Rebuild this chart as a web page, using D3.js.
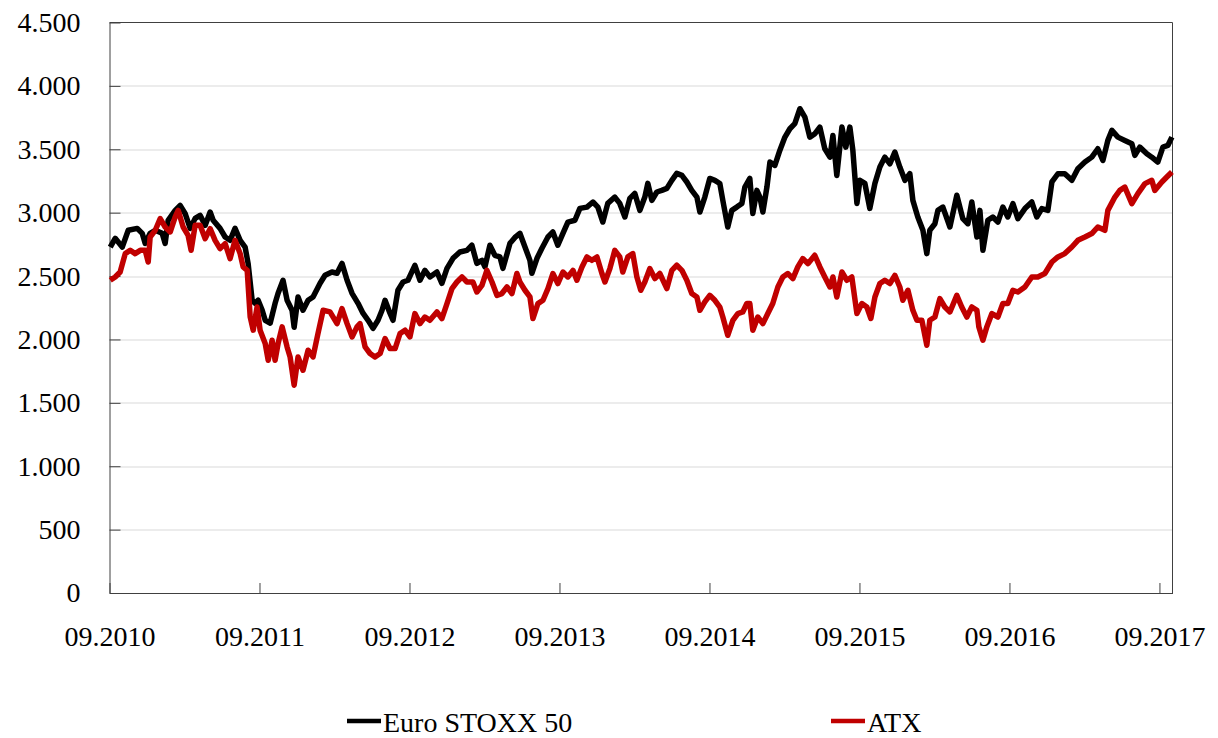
<!DOCTYPE html>
<html>
<head>
<meta charset="utf-8">
<script src="https://cdn.jsdelivr.net/npm/d3@7"></script>
<style>
  body { margin: 0; background: #fff; }
  svg { display: block; }
  text { font-family: "Liberation Serif", "DejaVu Serif", serif; fill: #000; }
</style>
</head>
<body>
<svg id="chart"></svg>
<script>
// Euro STOXX 50 (dates as decimal years)
var euroDates = [2010.671,2010.704,2010.751,2010.791,2010.851,2010.884,2010.904,2010.937,2010.971,2011.017,
  2011.037,2011.057,2011.104,2011.137,2011.170,2011.204,2011.237,2011.270,2011.304,2011.337,
  2011.357,2011.403,2011.437,2011.470,2011.503,2011.537,2011.570,2011.590,2011.617,2011.637,
  2011.657,2011.684,2011.704,2011.737,2011.770,2011.790,2011.823,2011.850,2011.883,2011.897,
  2011.923,2011.956,2011.990,2012.023,2012.070,2012.103,2012.149,2012.183,2012.216,2012.250,
  2012.283,2012.323,2012.356,2012.390,2012.423,2012.456,2012.483,2012.503,2012.536,2012.556,
  2012.589,2012.623,2012.656,2012.702,2012.736,2012.769,2012.802,2012.849,2012.882,2012.916,
  2012.956,2013.002,2013.049,2013.082,2013.115,2013.149,2013.169,2013.202,2013.235,2013.269,
  2013.289,2013.336,2013.369,2013.402,2013.436,2013.469,2013.482,2013.516,2013.549,2013.589,
  2013.622,2013.655,2013.689,2013.722,2013.769,2013.802,2013.849,2013.889,2013.922,2013.955,
  2013.988,2014.035,2014.068,2014.102,2014.135,2014.168,2014.202,2014.235,2014.255,2014.282,
  2014.315,2014.348,2014.382,2014.415,2014.448,2014.482,2014.515,2014.548,2014.582,2014.602,
  2014.635,2014.668,2014.702,2014.735,2014.755,2014.788,2014.815,2014.848,2014.882,2014.902,
  2014.935,2014.955,2014.982,2015.002,2015.022,2015.049,2015.069,2015.102,2015.135,2015.169,
  2015.202,2015.235,2015.269,2015.302,2015.335,2015.369,2015.402,2015.435,2015.469,2015.489,
  2015.515,2015.549,2015.575,2015.602,2015.622,2015.649,2015.669,2015.702,2015.735,2015.769,
  2015.802,2015.835,2015.869,2015.902,2015.935,2015.969,2016.002,2016.022,2016.055,2016.089,
  2016.115,2016.135,2016.169,2016.189,2016.222,2016.269,2016.315,2016.355,2016.389,2016.415,
  2016.449,2016.469,2016.489,2016.522,2016.555,2016.589,2016.622,2016.655,2016.689,2016.722,
  2016.769,2016.815,2016.848,2016.882,2016.922,2016.949,2016.989,2017.035,2017.082,2017.122,
  2017.169,2017.215,2017.255,2017.289,2017.322,2017.349,2017.389,2017.435,2017.482,2017.502,
  2017.535,2017.582,2017.615,2017.655,2017.689,2017.722,2017.749];
var euroValues = [2729,2798,2729,2861,2876,2837,2758,2837,2861,2837,
  2758,2940,3018,3057,2994,2876,2955,2979,2900,3005,
  2940,2876,2808,2782,2876,2782,2729,2600,2309,2285,
  2309,2230,2151,2128,2285,2364,2467,2309,2230,2096,
  2335,2230,2309,2335,2443,2506,2532,2522,2600,2467,
  2364,2285,2207,2151,2088,2151,2230,2309,2207,2151,
  2388,2453,2467,2585,2467,2545,2493,2532,2443,2561,
  2640,2690,2703,2743,2600,2624,2572,2743,2664,2651,
  2561,2758,2805,2837,2729,2624,2522,2640,2719,2808,
  2848,2743,2837,2926,2940,3034,3044,3084,3044,2926,
  3073,3123,3073,2966,3113,3152,3018,3123,3231,3097,
  3163,3176,3192,3255,3310,3294,3242,3176,3123,3005,
  3123,3270,3255,3230,3097,2887,3018,3044,3073,3202,
  3270,2994,3176,3123,3005,3202,3399,3373,3491,3596,
  3662,3702,3820,3754,3596,3623,3675,3504,3438,3609,
  3294,3675,3517,3675,3491,3073,3255,3231,3034,3231,
  3360,3438,3386,3478,3360,3255,3307,3097,2966,2861,
  2677,2861,2913,3018,3044,2887,3137,2953,2913,3084,
  2808,3018,2703,2940,2966,2926,3044,2966,3071,2953,
  3032,3084,2966,3032,3018,3242,3307,3307,3255,3347,
  3399,3438,3504,3412,3570,3649,3596,3570,3544,3452,
  3517,3465,3438,3399,3517,3530,3596];

// ATX
var atxDates = [2010.671,2010.704,2010.737,2010.771,2010.804,2010.837,2010.871,2010.904,2010.924,2010.937,
  2010.971,2011.004,2011.037,2011.071,2011.104,2011.124,2011.157,2011.190,2011.210,2011.237,
  2011.270,2011.304,2011.337,2011.370,2011.403,2011.437,2011.470,2011.503,2011.537,2011.557,
  2011.584,2011.604,2011.624,2011.650,2011.670,2011.704,2011.724,2011.750,2011.770,2011.790,
  2011.817,2011.850,2011.870,2011.897,2011.923,2011.956,2011.990,2012.023,2012.056,2012.090,
  2012.136,2012.183,2012.216,2012.250,2012.283,2012.316,2012.336,2012.370,2012.403,2012.436,
  2012.470,2012.503,2012.536,2012.570,2012.603,2012.636,2012.669,2012.702,2012.736,2012.769,
  2012.802,2012.849,2012.882,2012.916,2012.949,2012.982,2013.016,2013.049,2013.089,2013.115,
  2013.149,2013.182,2013.216,2013.249,2013.282,2013.316,2013.349,2013.382,2013.402,2013.436,
  2013.469,2013.489,2013.522,2013.556,2013.589,2013.622,2013.655,2013.689,2013.722,2013.756,
  2013.782,2013.816,2013.849,2013.882,2013.916,2013.949,2013.969,2014.002,2014.035,2014.068,
  2014.088,2014.122,2014.155,2014.182,2014.208,2014.235,2014.268,2014.302,2014.335,2014.382,
  2014.415,2014.448,2014.482,2014.515,2014.548,2014.582,2014.602,2014.635,2014.668,2014.702,
  2014.735,2014.755,2014.788,2014.822,2014.855,2014.888,2014.915,2014.935,2014.955,2014.988,
  2015.022,2015.055,2015.088,2015.122,2015.155,2015.188,2015.222,2015.255,2015.288,2015.322,
  2015.368,2015.402,2015.435,2015.469,2015.489,2015.515,2015.549,2015.582,2015.615,2015.649,
  2015.682,2015.715,2015.742,2015.769,2015.802,2015.835,2015.869,2015.902,2015.935,2015.955,
  2015.989,2016.022,2016.049,2016.082,2016.115,2016.135,2016.169,2016.202,2016.235,2016.269,
  2016.315,2016.348,2016.382,2016.415,2016.449,2016.462,2016.489,2016.515,2016.549,2016.589,
  2016.622,2016.655,2016.689,2016.722,2016.769,2016.815,2016.855,2016.902,2016.949,2016.989,
  2017.035,2017.082,2017.122,2017.169,2017.215,2017.255,2017.302,2017.322,2017.369,2017.402,
  2017.435,2017.482,2017.522,2017.569,2017.615,2017.635,2017.682,2017.715,2017.749];
var atxValues = [2467,2493,2532,2677,2703,2677,2703,2703,2611,2808,
  2861,2953,2887,2848,2966,3018,2887,2821,2703,2900,
  2900,2795,2874,2782,2716,2756,2638,2782,2677,2572,
  2545,2177,2073,2256,2073,1968,1836,1994,1836,1968,
  2099,1941,1862,1639,1862,1757,1915,1862,2047,2230,
  2217,2125,2244,2125,2020,2099,2125,1941,1889,1862,
  1889,2007,1928,1928,2047,2073,2020,2204,2125,2177,
  2151,2217,2165,2283,2401,2453,2493,2453,2453,2374,
  2427,2545,2453,2348,2362,2414,2362,2520,2453,2388,
  2335,2165,2283,2309,2401,2520,2441,2532,2493,2545,
  2467,2572,2651,2624,2651,2520,2453,2559,2703,2651,
  2532,2651,2677,2493,2388,2453,2559,2480,2520,2401,
  2545,2585,2545,2467,2362,2335,2230,2296,2348,2309,
  2255,2177,2033,2151,2204,2217,2283,2283,2073,2177,
  2125,2204,2283,2414,2493,2520,2480,2572,2638,2598,
  2664,2572,2493,2414,2493,2335,2532,2467,2493,2204,
  2283,2256,2165,2335,2441,2467,2441,2506,2414,2309,
  2388,2230,2151,2151,1954,2151,2177,2322,2256,2217,
  2348,2256,2177,2256,2230,2099,1994,2099,2204,2177,
  2283,2283,2388,2374,2414,2493,2493,2520,2611,2651,
  2677,2729,2782,2808,2835,2887,2861,3018,3123,3176,
  3202,3071,3150,3229,3255,3176,3242,3281,3320];

var yTicks = [0, 500, 1000, 1500, 2000, 2500, 3000, 3500, 4000, 4500];
var xTickDates = [2010.666, 2011.666, 2012.666, 2013.666, 2014.666, 2015.666, 2016.666, 2017.666];
var xTickLabels = ["09.2010", "09.2011", "09.2012", "09.2013", "09.2014", "09.2015", "09.2016", "09.2017"];
var seriesNames = ["Euro STOXX 50", "ATX"];
var seriesColors = ["#000000", "#c00000"];

var W = 1218, H = 738;
var margin = {top: 22.5, right: 45.5, bottom: 145, left: 109.5};
var width = W - margin.left - margin.right,
    height = H - margin.top - margin.bottom;

var svg = d3.select("#chart").attr("width", W).attr("height", H);
var g = svg.append("g").attr("transform", "translate(" + margin.left + "," + margin.top + ")");

var x = d3.scaleLinear().domain([2010.666, 2017.753]).range([0, width]);
var y = d3.scaleLinear().domain([0, 4500]).range([height, 0]);

var de = d3.formatLocale({decimal: ",", thousands: ".", grouping: [3], currency: ["", " €"]});
var fmt = de.format(",");

// gridlines
g.selectAll("line.grid")
  .data(yTicks.filter(function(d) { return d > 0 && d < 4500; }))
  .enter().append("line")
  .attr("class", "grid")
  .attr("x1", 0).attr("x2", width)
  .attr("y1", function(d) { return Math.round(y(d)) + 0.5; })
  .attr("y2", function(d) { return Math.round(y(d)) + 0.5; })
  .attr("stroke", "#d9d9d9").attr("stroke-width", 1.2);

// top and right frame
g.append("line").attr("x1", 0).attr("x2", width).attr("y1", 0).attr("y2", 0)
  .attr("stroke", "#404040").attr("stroke-width", 1);
g.append("line").attr("x1", width).attr("x2", width).attr("y1", 0).attr("y2", height)
  .attr("stroke", "#404040").attr("stroke-width", 1);

// y axis
var yAxis = g.append("g")
  .call(d3.axisLeft(y).tickValues(yTicks).tickSize(-11).tickSizeOuter(0).tickPadding(29).tickFormat(fmt));
yAxis.selectAll("text").attr("font-size", 28).attr("font-family", "Liberation Serif");

// x axis
var xAxis = g.append("g")
  .attr("transform", "translate(0," + height + ")")
  .call(d3.axisBottom(x).tickValues(xTickDates).tickSize(-10).tickSizeOuter(0)
    .tickFormat(function(d, i) { return xTickLabels[i]; }));
xAxis.selectAll("text").attr("font-size", 28).attr("font-family", "Liberation Serif")
  .attr("dy", null).attr("y", 53);

[yAxis, xAxis].forEach(function(a) {
  a.selectAll("path, line").attr("stroke", "#404040");
});

// series
var line = d3.line()
  .x(function(d) { return x(d[0]); })
  .y(function(d) { return y(d[1]); });

var series = [
  d3.zip(euroDates, euroValues),
  d3.zip(atxDates, atxValues)
];

g.selectAll("path.series")
  .data(series)
  .enter().append("path")
  .attr("class", "series")
  .attr("d", line)
  .attr("fill", "none")
  .attr("stroke", function(d, i) { return seriesColors[i]; })
  .attr("stroke-width", 5.5)
  .attr("stroke-linejoin", "round");

// legend
var legendX = [347, 831];
var legend = svg.selectAll("g.legend")
  .data(seriesNames)
  .enter().append("g")
  .attr("class", "legend")
  .attr("transform", function(d, i) { return "translate(" + legendX[i] + ",721)"; });

legend.append("line")
  .attr("x1", 0).attr("x2", 34).attr("y1", 0).attr("y2", 0)
  .attr("stroke", function(d, i) { return seriesColors[i]; })
  .attr("stroke-width", 4.5);

legend.append("text")
  .attr("x", 36).attr("y", 11)
  .attr("font-size", 28)
  .text(function(d) { return d; });
</script>
</body>
</html>
